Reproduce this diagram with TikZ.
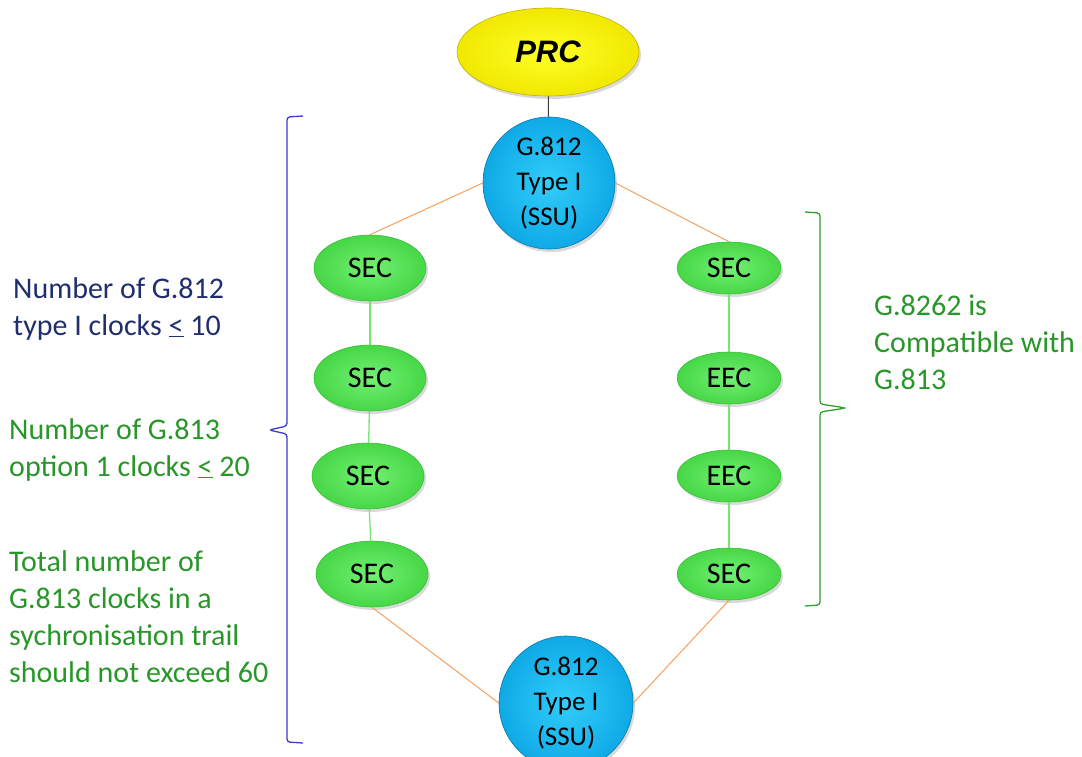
\documentclass[tikz,border=0pt]{standalone}
\usepackage{fontspec}
\setmainfont{Carlito}
\newfontfamily\arialfont{Liberation Sans}
\usetikzlibrary{shapes.geometric,shadows}
\definecolor{navytext}{RGB}{31,47,110}
\definecolor{greentext}{RGB}{40,150,40}
\definecolor{bracenavy}{RGB}{60,60,200}
\definecolor{bracegreen}{RGB}{45,160,45}
\definecolor{orangeline}{RGB}{247,160,90}
\definecolor{greenline}{RGB}{120,228,120}
\tikzset{
  nodeshadow/.style={drop shadow={opacity=0.3,shadow xshift=2pt,shadow yshift=-3pt}},
  secnode/.style={ellipse,inner sep=0pt,draw={rgb,255:red,60;green,190;blue,60},line width=0.6pt,
    inner color={rgb,255:red,115;green,240;blue,115},outer color={rgb,255:red,70;green,215;blue,70},
    nodeshadow,font=\fontsize{30}{32}\selectfont},
  leftsec/.style={secnode,minimum width=112pt,minimum height=66pt},
  rightsec/.style={secnode,minimum width=104pt,minimum height=52pt},
  ssunode/.style={circle,inner sep=0pt,minimum size=132pt,align=center,
    draw={rgb,255:red,10;green,120;blue,170},line width=0.6pt,
    inner color={rgb,255:red,50;green,205;blue,250},outer color={rgb,255:red,15;green,170;blue,230},
    nodeshadow,font=\fontsize{27}{35}\selectfont},
  prcnode/.style={ellipse,inner sep=0pt,minimum width=182pt,minimum height=88pt,
    draw={rgb,255:red,200;green,175;blue,0},line width=0.6pt,
    inner color={rgb,255:red,255;green,255;blue,40},outer color={rgb,255:red,240;green,232;blue,0},
    nodeshadow,font=\arialfont\bfseries\itshape\fontsize{31}{32}\selectfont},
  orangeconn/.style={draw=orangeline,line width=1pt},
  greenconn/.style={draw=greenline,line width=1.3pt},
  blackconn/.style={draw={rgb,255:red,60;green,60;blue,60},line width=1pt},
  sidetext/.style={anchor=north west,inner sep=0pt,align=left,font=\fontsize{30}{37}\selectfont},
  bracepath/.style={line width=1.3pt,rounded corners=3pt}
}
\begin{document}
\begin{tikzpicture}[x=1pt,y=-1pt]
\useasboundingbox (0,0) rectangle (1082,756);
\node[prcnode] (prc) at (548,52) {PRC};
\node[ssunode] (ssu1) at (549,183) {G.812\\Type I\\(SSU)};
\node[ssunode,minimum size=134pt] (ssu2) at (566,703) {G.812\\Type I\\(SSU)};
\node[leftsec] (l1) at (370,268) {SEC};
\node[leftsec] (l2) at (370,378) {SEC};
\node[leftsec] (l3) at (368,476) {SEC};
\node[leftsec] (l4) at (372,574) {SEC};
\node[rightsec] (r1) at (729,268) {SEC};
\node[rightsec] (r2) at (729,378) {EEC};
\node[rightsec] (r3) at (729,476) {EEC};
\node[rightsec] (r4) at (729,574) {SEC};
\draw[blackconn] (prc) -- (ssu1);
\draw[orangeconn] (ssu1.west) -- (l1.north);
\draw[orangeconn] (ssu1.east) -- (r1.north);
\draw[orangeconn] (l4.south) -- (ssu2.west);
\draw[orangeconn] (r4.south) -- (ssu2.east);
\draw[greenconn] (l1) -- (l2);
\draw[greenconn] (l2) -- (l3);
\draw[greenconn] (l3) -- (l4);
\draw[greenconn] (r1) -- (r2);
\draw[greenconn] (r2) -- (r3);
\draw[greenconn] (r3) -- (r4);
% braces
\coordinate (lbtop) at (303,116);
\coordinate (lbtip) at (269,430);
\coordinate (lbbot) at (303,743);
\draw[bracepath,draw=bracenavy] (lbtop) -- (287,117) -- (287,426) -- (lbtip) -- (287,434) -- (287,742) -- (lbbot);
\coordinate (rbtop) at (805,212);
\coordinate (rbtip) at (846,408);
\coordinate (rbbot) at (805,606);
\draw[bracepath,draw=bracegreen] (rbtop) -- (820,213) -- (820,404) -- (rbtip) -- (820,412) -- (820,605) -- (rbbot);
% side texts
\node[sidetext,text=navytext] (t1) at (13,277) {Number of G.812\\type I clocks \underline{<} 10};
\node[sidetext,text=greentext] (t2) at (9,418) {Number of G.813\\option 1 clocks \underline{<} 20};
\node[sidetext,text=greentext] (t3) at (9,550) {Total number of\\G.813 clocks in a\\sychronisation trail\\should not exceed 60};
\node[sidetext,text=greentext] (t4) at (874,295) {G.8262 is\\Compatible with\\G.813};
\end{tikzpicture}
\end{document}
